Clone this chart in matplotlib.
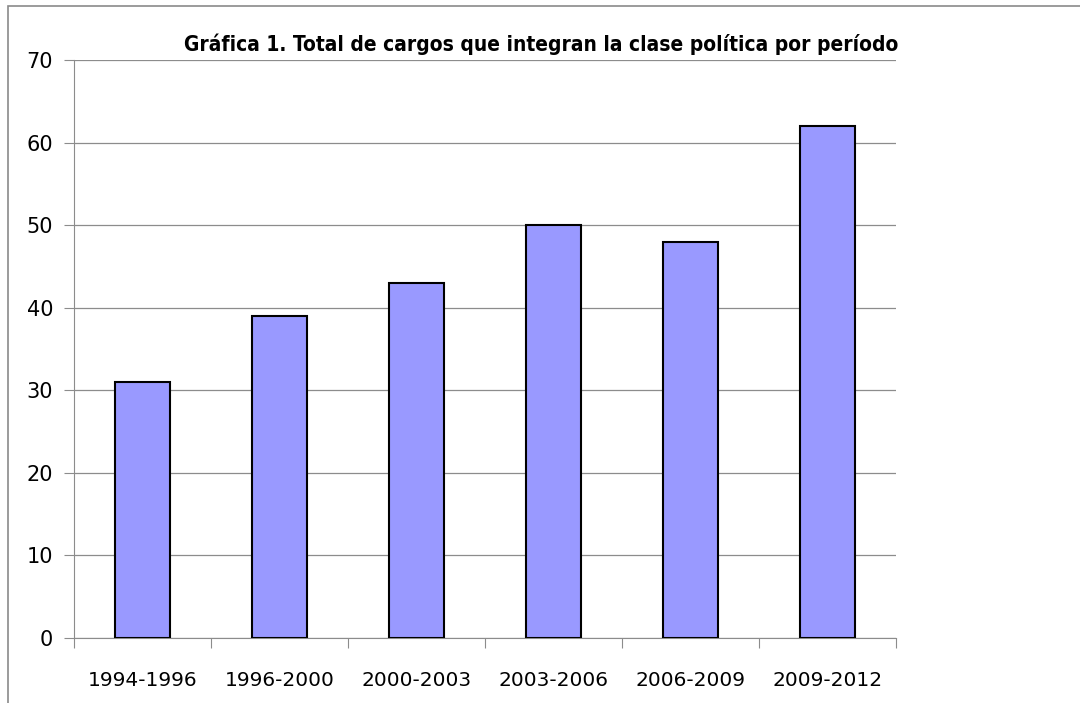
import numpy as np
import matplotlib.pyplot as plt
from matplotlib.patches import Rectangle

periodos = ['1994-1996', '1996-2000', '2000-2003', '2003-2006', '2006-2009', '2009-2012']
cargos = [31, 39, 43, 50, 48, 62]

fig = plt.figure(figsize=(10.8, 7.03), dpi=100)
ax = fig.add_axes([0.0685, 0.0925, 0.761, 0.8222])

# marco exterior (solo se ven arriba e izquierda)
fig.patches.append(Rectangle((8 / 1080, -0.1), 1.2, 1.1 - 6 / 703, transform=fig.transFigure,
                             fill=False, edgecolor='#8a8a8a', linewidth=1.2))

x = np.arange(len(periodos))
ax.bar(x, cargos, width=0.4, color='#9999ff', edgecolor='black', linewidth=1.5, zorder=3)

ax.set_ylim(0, 70)
ax.set_xlim(-0.5, len(periodos) - 0.5)
ax.set_yticks(range(0, 71, 10))
ax.yaxis.grid(True, color='#8c8c8c', linewidth=0.9, zorder=0)

ax.set_xticks(np.arange(-0.5, len(periodos), 1.0))
ax.set_xticklabels([])
ax.set_xticks(x, minor=True)
ax.set_xticklabels(periodos, minor=True)
ax.tick_params(axis='x', which='major', direction='out', length=7, color='#8c8c8c')
ax.tick_params(axis='x', which='minor', length=0, pad=24, labelsize=14.5)
ax.tick_params(axis='y', direction='out', length=7, color='#8c8c8c', pad=8, labelsize=15)

for s in ['top', 'right']:
    ax.spines[s].set_visible(False)
for s in ['left', 'bottom']:
    ax.spines[s].set_color('#8c8c8c')

fig.text(0.501, 0.922, 'Gráfica 1. Total de cargos que integran la clase política por período',
         ha='center', va='bottom', fontsize=15, fontweight='bold',
         family='DejaVu Sans', stretch='condensed')

fig.savefig('out.png', dpi=100)
